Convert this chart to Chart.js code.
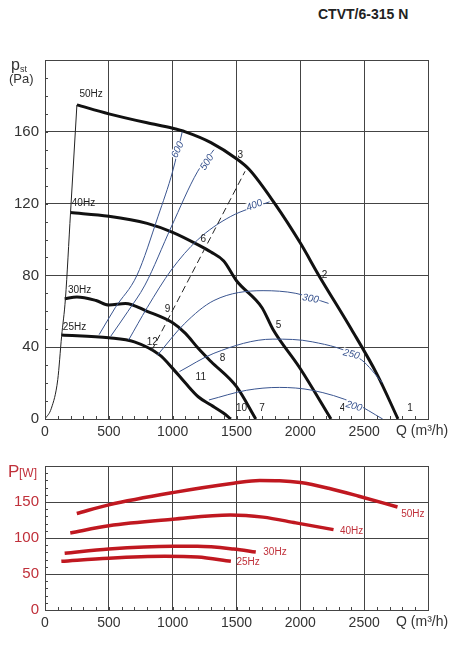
<!DOCTYPE html>
<html><head><meta charset="utf-8">
<script src="https://cdn.jsdelivr.net/npm/chart.js@4"></script>
<style>
body{margin:0;background:#fff;width:466px;height:648px;position:relative;font-family:"Liberation Sans",Arial,sans-serif;overflow:hidden}
#t{position:absolute;left:318px;top:6px;font-weight:bold;font-size:14px;color:#222}
</style></head><body>
<div id="t">CTVT/6-315 N</div>
<div id="w1" style="position:absolute;left:0;top:0;width:466px;height:450px"><canvas id="c1"></canvas></div>
<div id="w2" style="position:absolute;left:0;top:450px;width:466px;height:198px"><canvas id="c2"></canvas></div>
<script>
// ---- pressure curves (Q m3/h, pst Pa)
const q50=[250,500,800,1000,1100,1300,1500,1600,1800,2000,2145,2400,2600,2765];
const p50=[175,170,165,162,160,154,145,139,120,98,80,50,25,0];
const q40=[198,500,800,1000,1200,1300,1400,1500,1700,1785,2000,2240];
const p40=[115,113,109,104,97,93,88,77,62,50,28,0];
const q30=[154,250,400,500,630,800,1000,1100,1200,1300,1500,1651];
const p30=[67,68,66,63.5,64.4,60,53.6,47.7,39.4,32,18,0];
const q25=[128,500,700,900,1000,1100,1200,1300,1400,1456];
const p25=[46.8,45.3,43,35.6,28.2,20,12.4,7.8,3.2,0];
const qSys=[0,50,100,130,160,200,250];
const pSys=[0,6,22,46,67,115,175];
const qI600=[424,550,720,886,1000,1075], pI600=[47,62,80,113,138,160];
const qI500=[514,650,783,989,1194,1323], pI500=[46,60,74.6,107,137.7,150];
const qI400=[655,800,989,1194,1451,1759], pI400=[44,62,83,99.7,112.7,121];
const qI300=[881,1091,1323,1708,1965,2221], pI300=[35.6,53,66,71.5,70,64.4];
const qI250=[1053,1323,1785,2093,2478,2645], pI250=[26.4,36.6,44.5,43,33,20];
const qI200=[1284,1579,1836,2093,2427,2645], pI200=[10.6,16,17.6,16,8.7,0];
const qDash=[835,1567], pDash=[38,138];
// ---- power curves (Q m3/h, P W)
const wq50=[249,500,1000,1477,1682,1836,2000,2221,2459,2761];
const wp50=[134,146,163,176,180,179.6,177,169,158,143];
const wq40=[198,500,1000,1451,1708,1965,2260];
const wp40=[107,117,126,132,129,121,111.6];
const wq30=[154,500,1000,1194,1477,1651];
const wp30=[78.7,84.7,88.4,88.4,84.7,80.5];
const wq25=[128,500,937,1194,1456];
const wp25=[67.6,72,74.5,73.6,67.6];
// ---- ticks / labels
const xTicks=[0,500,1000,1500,2000,2500];
const yTicksTop=[0,40,80,120,160];
const yTicksBot=[0,50,100,150];
const numLabels=['1','2','3','4','5','6','7','8','9','10','11','12'];
const numAnchors=[[2860,6],[2190,80],[1530,147],[2330,6],[1830,52],[1240,100],[1700,6],[1390,34],[960,61],[1540,6],[1220,23],[840,43]];
const hzLabels=['50Hz','40Hz','30Hz','25Hz'];
const hzAnchors=[[270,181],[210,120],[180,72],[140,51]];
const isoLabels=['600','500','400','300','250','200'];
const isoAnchors=[[1040,150,-65],[1270,143,-58],[1640,119,-22],[2080,67,10],[2400,36,15],[2420,7,16]];
const pwLabels=['50Hz','40Hz','30Hz','25Hz'];
const pwAnchors=[[2790,133],[2310,110],[1710,80],[1500,66]];

const pts=(a,b)=>a.map((v,i)=>({x:v,y:b[i]}));
const ds=(a,b,c,w,extra)=>Object.assign({data:pts(a,b),borderColor:c,borderWidth:w,showLine:true,pointRadius:0,cubicInterpolationMode:'monotone',fill:false},extra||{});
const GRID='#444';
function axes(yMax,yTicks,xh,col){
 return {
  x:{type:'linear',min:0,max:3000,afterBuildTicks:s=>{s.ticks=xTicks.map(v=>({value:v}))},
     afterFit:s=>{s.height=xh},
     grid:{color:GRID,lineWidth:1,drawTicks:false},border:{color:GRID},
     ticks:{color:'#333',font:{size:14,family:'Liberation Sans'},padding:5,maxRotation:0,callback:v=>String(v)}},
  y:{type:'linear',min:0,max:yMax,afterBuildTicks:s=>{s.ticks=yTicks.map(v=>({value:v}))},
     afterFit:s=>{s.width=45},
     grid:{color:GRID,lineWidth:1,drawTicks:false},border:{color:GRID},
     ticks:{color:col,font:{size:15,family:'Liberation Sans'},padding:6,callback:v=>String(v)}}
 };
}
function minor(yStep){return {id:'minor',afterDraw(c){
 const x=c.scales.x,y=c.scales.y,ctx=c.ctx;ctx.save();ctx.strokeStyle='#444';ctx.lineWidth=1;
 ctx.strokeRect(Math.round(x.left)+0.5,Math.round(y.top)+0.5,Math.round(x.right-x.left),Math.round(y.bottom-y.top));
 for(let v=0;v<=y.max;v+=yStep){const py=Math.round(y.getPixelForValue(v))+0.5;ctx.beginPath();ctx.moveTo(x.left,py);ctx.lineTo(x.left+3,py);ctx.stroke();}
 for(let v=0;v<=3000;v+=100){const px=Math.round(x.getPixelForValue(v))+0.5;ctx.beginPath();ctx.moveTo(px,y.bottom);ctx.lineTo(px,y.bottom-3);ctx.stroke();}
 ctx.fillStyle='#333';ctx.font='14px Liberation Sans';ctx.textAlign='left';ctx.textBaseline='top';
 ctx.fillText('Q (m³/h)',x.getPixelForValue(2750),y.bottom+5);
 ctx.restore();}};}
function txt(ctx,s,x,y,font,col){ctx.font=font;ctx.fillStyle=col;ctx.fillText(s,x,y);}
const topLabels={id:'tl',afterDraw(c){
 const x=c.scales.x,y=c.scales.y,ctx=c.ctx;ctx.save();ctx.textAlign='center';ctx.textBaseline='middle';
 numLabels.forEach((s,i)=>txt(ctx,s,x.getPixelForValue(numAnchors[i][0]),y.getPixelForValue(numAnchors[i][1]),'10px Liberation Sans','#222'));
 ctx.textAlign='left';
 hzLabels.forEach((s,i)=>txt(ctx,s,x.getPixelForValue(hzAnchors[i][0]),y.getPixelForValue(hzAnchors[i][1]),'10px Liberation Sans','#222'));
 ctx.textAlign='center';
 isoLabels.forEach((s,i)=>{const a=isoAnchors[i];ctx.save();ctx.translate(x.getPixelForValue(a[0]),y.getPixelForValue(a[1]));ctx.rotate(a[2]*Math.PI/180);
   ctx.fillStyle='#fff';ctx.fillRect(-9,-5,18,10);txt(ctx,s,0,0,'italic 10px Liberation Sans','#3a5590');ctx.restore();});
 ctx.textAlign='left';ctx.textBaseline='alphabetic';
 txt(ctx,'p',11,70,'16px Liberation Sans','#333');txt(ctx,'st',20,72,'9px Liberation Sans','#333');
 txt(ctx,'(Pa)',9,83,'13px Liberation Sans','#333');
 ctx.restore();}};
const botLabels={id:'bl',afterDraw(c){
 const x=c.scales.x,y=c.scales.y,ctx=c.ctx;ctx.save();ctx.textAlign='left';ctx.textBaseline='middle';
 pwLabels.forEach((s,i)=>txt(ctx,s,x.getPixelForValue(pwAnchors[i][0]),y.getPixelForValue(pwAnchors[i][1]),'10px Liberation Sans','#c0303a'));
 ctx.textBaseline='alphabetic';
 txt(ctx,'P',8,27,'17px Liberation Sans','#c0303a');txt(ctx,'[W]',19,27,'12px Liberation Sans','#c0303a');
 ctx.restore();}};
const blue='#3a5590',K='#111';
new Chart(document.getElementById('c1'),{type:'scatter',data:{datasets:[
 ds(qSys,pSys,'#222',1),ds(qDash,pDash,'#222',1,{borderDash:[7,4]}),
 ds(qI600,pI600,blue,1),ds(qI500,pI500,blue,1),ds(qI400,pI400,blue,1),ds(qI300,pI300,blue,1),ds(qI250,pI250,blue,1),ds(qI200,pI200,blue,1),
 ds(q50,p50,K,3),ds(q40,p40,K,3),ds(q30,p30,K,3),ds(q25,p25,K,3)]},
 options:{responsive:true,maintainAspectRatio:false,animation:false,layout:{padding:{top:60,right:38,left:0,bottom:0}},
  plugins:{legend:{display:false},tooltip:{enabled:false}},scales:axes(200,yTicksTop,31,'#333')},
 plugins:[minor(10),topLabels]});
const red='#c01820';
new Chart(document.getElementById('c2'),{type:'scatter',data:{datasets:[
 ds(wq50,wp50,red,3.5),ds(wq40,wp40,red,3.5),ds(wq30,wp30,red,3.5),ds(wq25,wp25,red,3.5)]},
 options:{responsive:true,maintainAspectRatio:false,animation:false,layout:{padding:{top:16,right:38,left:0,bottom:0}},
  plugins:{legend:{display:false},tooltip:{enabled:false}},scales:axes(200,yTicksBot,38,'#c0303a')},
 plugins:[minor(10),botLabels]});
</script></body></html>
